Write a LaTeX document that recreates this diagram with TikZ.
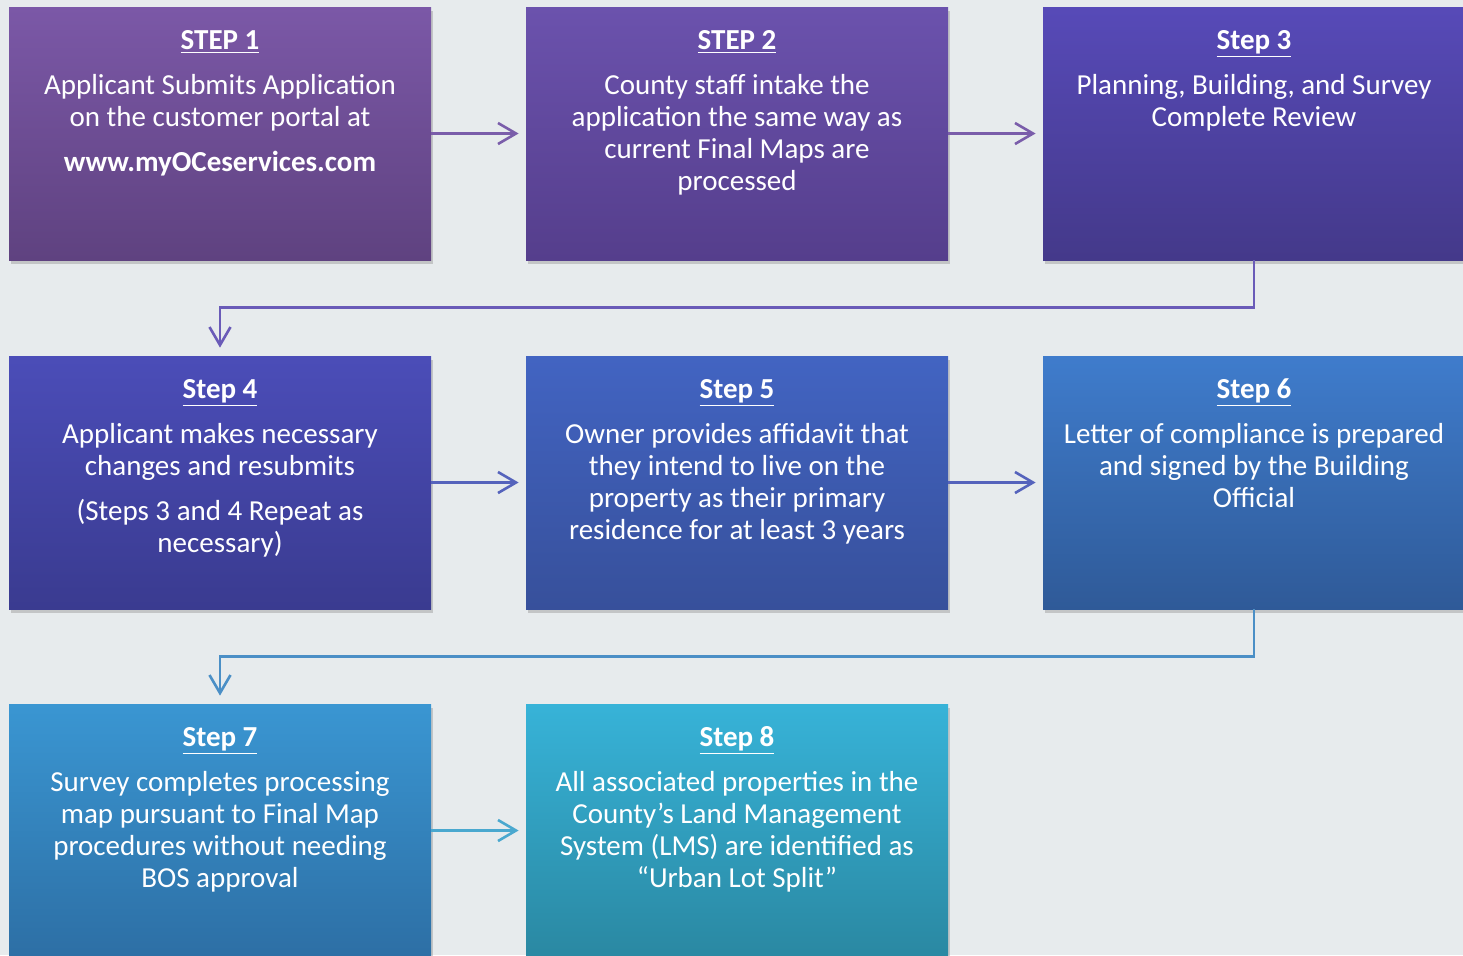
\documentclass[tikz,border=0pt]{standalone}
\usepackage{fontspec}
\setmainfont{Carlito}
\usetikzlibrary{arrows.meta,shadows}

\definecolor{bg}{HTML}{E7EBED}
\definecolor{sAt}{HTML}{7B58A7}\definecolor{sAb}{HTML}{5F4280}
\definecolor{sBt}{HTML}{6B52AD}\definecolor{sBb}{HTML}{553E8C}
\definecolor{sCt}{HTML}{574AB8}\definecolor{sCb}{HTML}{44398A}
\definecolor{sDt}{HTML}{4B4DB8}\definecolor{sDb}{HTML}{3A3B90}
\definecolor{sEt}{HTML}{4264C2}\definecolor{sEb}{HTML}{37509B}
\definecolor{sFt}{HTML}{3F7CCC}\definecolor{sFb}{HTML}{2F5A98}
\definecolor{sGt}{HTML}{3A96D2}\definecolor{sGb}{HTML}{2D6FA5}
\definecolor{sHt}{HTML}{37B3D8}\definecolor{sHb}{HTML}{2A88A2}
\definecolor{arA}{HTML}{7A5DAA}
\definecolor{arB}{HTML}{6A5BB8}
\definecolor{arC}{HTML}{5563BC}
\definecolor{arD}{HTML}{4B8FC6}
\definecolor{arE}{HTML}{4AA8CF}

\begin{document}
\begin{tikzpicture}[x=0.5pt,y=-0.5pt,
  stepbox/.style={rectangle, inner sep=0pt, minimum width=211pt, minimum height=126.5pt,
    drop shadow={shadow xshift=1.2pt, shadow yshift=-1.8pt, opacity=0.35}},
  steptitle/.style={anchor=base, text=white, inner sep=0pt,
    font=\fontsize{14.5}{16}\selectfont\bfseries},
  stepbody/.style={anchor=north, text=white, align=center, inner sep=0pt,
    font=\fontsize{14.5}{16}\selectfont},
  flow/.style={line width=1.3pt, shorten >=3.5pt,
    -{Straight Barb[length=9pt,width=10.5pt,line width=1.3pt]}},
]
\useasboundingbox (0,0) rectangle (1463,955);
\clip (0,0) rectangle (1463,955);
\fill[bg] (0,0) rectangle (1463,955);

% step boxes
\node[stepbox, top color=sAt, bottom color=sAb] (s1) at (220,133.5) {};
\node[stepbox, top color=sBt, bottom color=sBb] (s2) at (737,133.5) {};
\node[stepbox, top color=sCt, bottom color=sCb] (s3) at (1254,133.5) {};
\node[stepbox, top color=sDt, bottom color=sDb] (s4) at (220,482.5) {};
\node[stepbox, top color=sEt, bottom color=sEb] (s5) at (737,482.5) {};
\node[stepbox, top color=sFt, bottom color=sFb] (s6) at (1254,482.5) {};
\node[stepbox, top color=sGt, bottom color=sGb] (s7) at (220,830.5) {};
\node[stepbox, top color=sHt, bottom color=sHb] (s8) at (737,830.5) {};

% titles
\node[steptitle] (t1) at ([yshift=-21.3pt]s1.north) {\underline{STEP 1}};
\node[steptitle] (t2) at ([yshift=-21.3pt]s2.north) {\underline{STEP 2}};
\node[steptitle] (t3) at ([yshift=-21.3pt]s3.north) {\underline{Step 3}};
\node[steptitle] (t4) at ([yshift=-21.3pt]s4.north) {\underline{Step 4}};
\node[steptitle] (t5) at ([yshift=-21.3pt]s5.north) {\underline{Step 5}};
\node[steptitle] (t6) at ([yshift=-21.3pt]s6.north) {\underline{Step 6}};
\node[steptitle] (t7) at ([yshift=-21.3pt]s7.north) {\underline{Step 7}};
\node[steptitle] (t8) at ([yshift=-21.3pt]s8.north) {\underline{Step 8}};

% descriptions
\node[stepbody] (b1) at ([yshift=-33.8pt]s1.north)
  {Applicant Submits Application\\on the customer portal at\\[6.5pt]\textbf{www.myOCeservices.com}};
\node[stepbody] (b2) at ([yshift=-33.8pt]s2.north)
  {County staff intake the\\application the same way as\\current Final Maps are\\processed};
\node[stepbody] (b3) at ([yshift=-33.8pt]s3.north)
  {Planning, Building, and Survey\\Complete Review};
\node[stepbody] (b4) at ([yshift=-33.8pt]s4.north)
  {Applicant makes necessary\\changes and resubmits\\[6.5pt](Steps 3 and 4 Repeat as\\necessary)};
\node[stepbody] (b5) at ([yshift=-33.8pt]s5.north)
  {Owner provides affidavit that\\they intend to live on the\\property as their primary\\residence for at least 3 years};
\node[stepbody] (b6) at ([yshift=-33.8pt]s6.north)
  {Letter of compliance is prepared\\and signed by the Building\\Official};
\node[stepbody] (b7) at ([yshift=-33.8pt]s7.north)
  {Survey completes processing\\map pursuant to Final Map\\procedures without needing\\BOS approval};
\node[stepbody] (b8) at ([yshift=-33.8pt]s8.north)
  {All associated properties in the\\County’s Land Management\\System (LMS) are identified as\\“Urban Lot Split”};

% connectors
\draw[flow, arA] (s1.east) -- (s2.west);
\draw[flow, arA] (s2.east) -- (s3.west);
\draw[flow, arB, shorten >=4pt] (s3.south) -- ++(0,47) -| (s4.north);
\draw[flow, arC] (s4.east) -- (s5.west);
\draw[flow, arC] (s5.east) -- (s6.west);
\draw[flow, arD, shorten >=4pt] (s6.south) -- ++(0,47) -| (s7.north);
\draw[flow, arE] (s7.east) -- (s8.west);
\end{tikzpicture}
\end{document}
